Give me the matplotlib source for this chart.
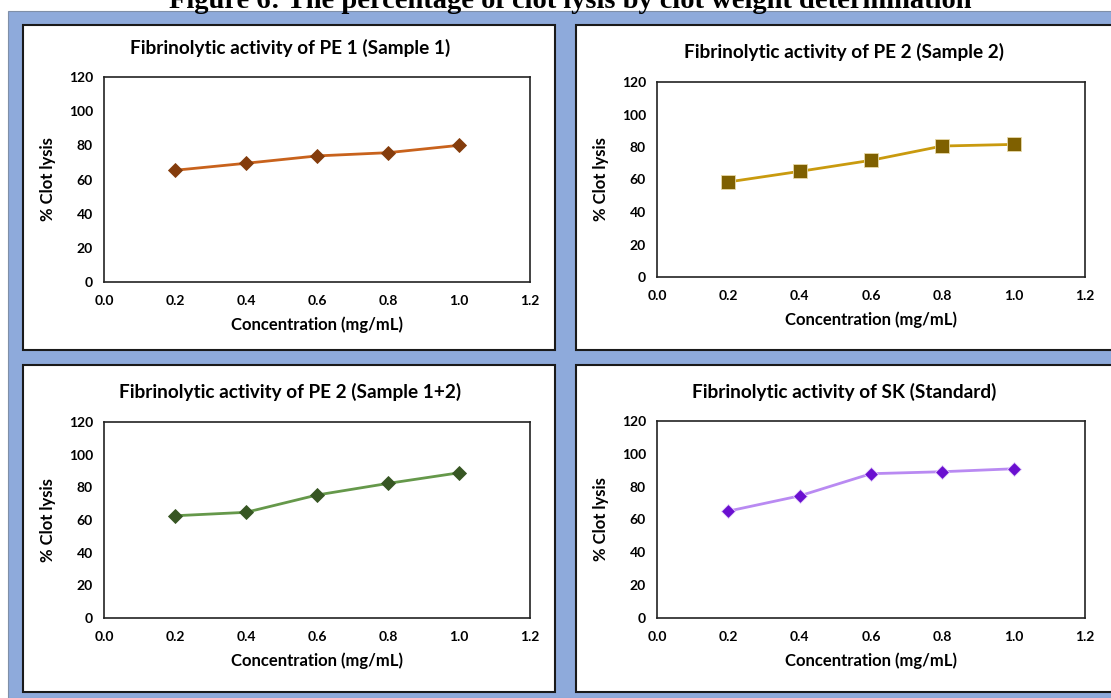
import matplotlib
matplotlib.use('Agg')
import matplotlib.pyplot as plt
from matplotlib.patches import Rectangle

W, H = 1111, 698

conc = [0.2, 0.4, 0.6, 0.8, 1.0]
pe1 = [65.4, 69.5, 73.8, 75.7, 80.0]
pe2 = [58.5, 65.0, 71.8, 80.6, 81.6]
pe12 = [62.6, 64.7, 75.3, 82.4, 88.9]
sk = [65.1, 74.4, 87.9, 89.1, 90.9]

titles = ['Fibrinolytic activity of PE 1 (Sample 1)',
          'Fibrinolytic activity of PE 2 (Sample 2)',
          'Fibrinolytic activity of PE 2 (Sample 1+2)',
          'Fibrinolytic activity of SK (Standard)']
series = [pe1, pe2, pe12, sk]
xticks = [0.0, 0.2, 0.4, 0.6, 0.8, 1.0, 1.2]
yticks = [0, 20, 40, 60, 80, 100, 120]

# line colour, marker colour, marker edge, marker, size
styles = [('#c8621c', '#843c0c', '#843c0c', 'D', 7.2),
          ('#c99a0e', '#7f6000', '#e8d9a8', 's', 9.8),
          ('#65984a', '#375623', '#375623', 'D', 7.0),
          ('#b98af2', '#6a0fd0', '#e6d4fb', 'D', 7.2)]

# pixel boxes (left, top, right, bottom)
panels = [(23, 25, 555, 350), (576, 25, 1120, 350),
          (23, 365, 555, 692), (576, 365, 1120, 692)]
axboxes = [(104, 77, 530, 282), (657, 82, 1085, 277),
           (104, 422, 530, 618), (657, 421, 1085, 618)]
title_pos = [(290, 48), (844, 52), (290, 392), (844, 392)]

FONT = 'Lato'


def fbox(l, t, r, b):
    return [l / W, 1 - b / H, (r - l) / W, (b - t) / H]


fig = plt.figure(figsize=(W / 100, H / 100), dpi=100)
fig.patch.set_facecolor('white')

fig.patches.append(Rectangle((8 / W, 0), 1.2, 1 - 11 / H, transform=fig.transFigure,
                             facecolor='#8eaadb', edgecolor='#7f8fa8', lw=0.8, zorder=0))
for p in panels:
    l, b, w, h = fbox(*p)
    fig.patches.append(Rectangle((l, b), w, h, transform=fig.transFigure,
                                 facecolor='white', edgecolor='#1a1a1a', lw=1.5, zorder=1))

fig.text(570 / W, 1 - 8.5 / H, 'Figure 6: The percentage of clot lysis by clot weight determination',
         ha='center', va='baseline', fontsize=20.5, fontweight='bold',
         family='Liberation Serif', zorder=3)

for i in range(4):
    ax = fig.add_axes(fbox(*axboxes[i]))
    ax.set_zorder(2)
    lc, mc, me, mk, ms = styles[i]
    ax.plot(conc, series[i], '-', color=lc, lw=2.0, marker=mk, ms=ms,
            markerfacecolor=mc, markeredgecolor=me, markeredgewidth=0.6)
    ax.set_xlim(0, 1.2)
    ax.set_ylim(0, 120)
    ax.set_xticks(xticks)
    ax.set_xticklabels(['%.1f' % v for v in xticks])
    ax.set_yticks(yticks)
    ax.tick_params(length=0, labelsize=10)
    ax.tick_params(axis='x', pad=9.5)
    ax.tick_params(axis='y', pad=8)
    for lab in ax.get_xticklabels() + ax.get_yticklabels():
        lab.set_family(FONT)
        lab.set_fontweight('bold')
    for s in ax.spines.values():
        s.set_linewidth(1.2)
        s.set_color('#222222')
    ax.set_xlabel('Concentration (mg/mL)', family=FONT, fontweight='bold',
                  fontsize=12, labelpad=7)
    ax.set_ylabel('% Clot lysis', family=FONT, fontweight='bold', fontsize=12,
                  labelpad=9)
    tx, ty = title_pos[i]
    fig.text(tx / W, 1 - ty / H, titles[i], ha='center', va='center',
             family=FONT, fontweight='bold', fontsize=13.7, zorder=3)

plt.savefig('out.png', dpi=100)
